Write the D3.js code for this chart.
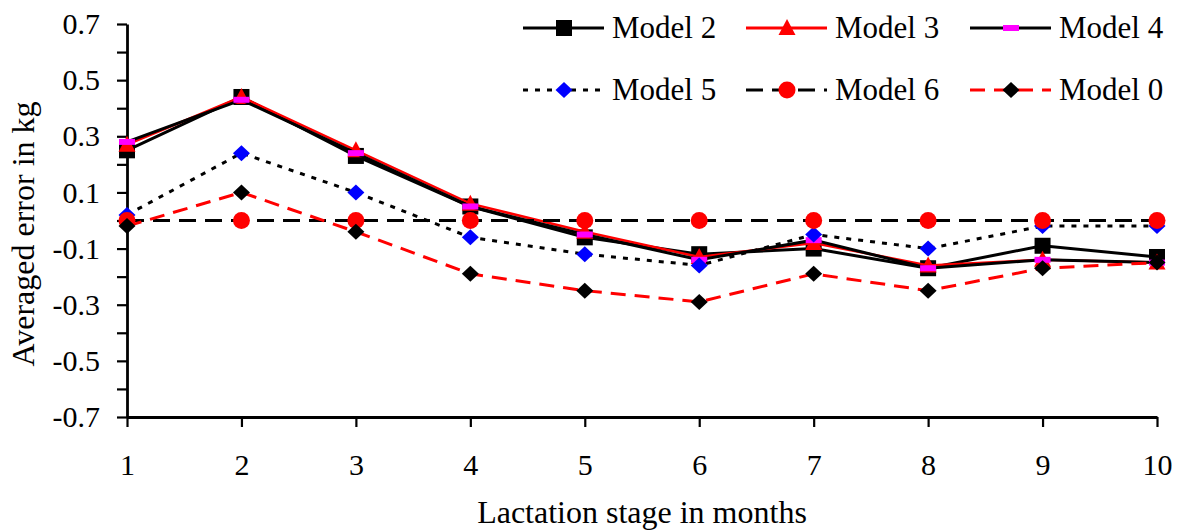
<!DOCTYPE html>
<html>
    <head>
        <meta charset="utf-8">
        <script src="https://d3js.org/d3.v7.min.js"></script>
    </head>
    <body style="margin:0">
        <svg width="1179" height="531" style="font-family: 'Liberation Serif'"></svg>

        <script>

            // data
            var months = [1, 2, 3, 4, 5, 6, 7, 8, 9, 10];
            var model2 = [0.25, 0.44, 0.23, 0.05, -0.06, -0.12, -0.10, -0.17, -0.09, -0.13];
            var model3 = [0.27, 0.44, 0.25, 0.06, -0.04, -0.13, -0.08, -0.16, -0.14, -0.15];
            var model4 = [0.28, 0.43, 0.24, 0.05, -0.05, -0.14, -0.07, -0.17, -0.14, -0.15];
            var model5 = [0.02, 0.24, 0.10, -0.06, -0.12, -0.16, -0.05, -0.10, -0.02, -0.02];
            var model6 = [0, 0, 0, 0, 0, 0, 0, 0, 0, 0];
            var model0 = [-0.02, 0.10, -0.04, -0.19, -0.25, -0.29, -0.19, -0.25, -0.17, -0.15];

            var seriesNames = ["Model 2", "Model 3", "Model 4", "Model 5", "Model 6", "Model 0"];
            var seriesValues = [model2, model3, model4, model5, model6, model0];
            var lineColors = ["#000", "#f00", "#000", "#000", "#000", "#f00"];
            var lineDash = [null, null, null, "5,7", "17,9", "15,9"];
            var markerShapes = ["square", "triangle", "bar", "diamond", "circle", "diamond"];
            var markerColors = ["#000", "#f00", "#f0f", "#00f", "#f00", "#000"];

            var yMajorTicks = [-0.7, -0.5, -0.3, -0.1, 0.1, 0.3, 0.5, 0.7];
            var yAllTicks = [-0.7, -0.6, -0.5, -0.4, -0.3, -0.2, -0.1, 0, 0.1, 0.2, 0.3, 0.4, 0.5, 0.6, 0.7];

            var svg = d3.select("svg");
            var x = d3.scaleLinear().domain([1, 10]).range([127, 1157]);
            var y = d3.scaleLinear().domain([-0.7, 0.7]).range([417, 24]);

            function styleAxis(g) {
              g.attr("font-family", "Liberation Serif").attr("font-size", 30);
              g.selectAll("line").attr("stroke", "#000").attr("stroke-width", 2.2);
              g.select(".domain").attr("stroke", "#000").attr("stroke-width", 2.8);
              g.selectAll("text").style("font-family", "Liberation Serif").attr("fill", "#000");
            }

            // axes
            svg.append("g")
              .attr("transform", "translate(0," + y(-0.7) + ")")
              .call(d3.axisBottom(x).tickValues(months).tickSize(10).tickSizeOuter(0).tickPadding(27).tickFormat(d3.format("d")))
              .call(styleAxis);

            svg.append("g")
              .attr("transform", "translate(" + x(1) + ",0)")
              .call(d3.axisLeft(y).tickValues(yAllTicks).tickSize(10).tickSizeOuter(0).tickPadding(17)
                .tickFormat(function(d) {
                  var major = yMajorTicks.some(function(t) { return Math.abs(t - d) < 1e-9; });
                  return major ? d.toFixed(1) : "";
                }))
              .call(styleAxis);

            // axis titles
            svg.append("text")
              .attr("x", (x(1) + x(10)) / 2)
              .attr("y", 523)
              .attr("text-anchor", "middle")
              .style("font-family", "Liberation Serif")
              .style("font-size", "32px")
              .text("Lactation stage in months");

            svg.append("text")
              .attr("transform", "translate(34,234) rotate(-90)")
              .attr("text-anchor", "middle")
              .style("font-family", "Liberation Serif")
              .style("font-size", "32px")
              .text("Averaged error in kg");

            // marker drawing
            function drawMarker(g, shape, color, cx, cy) {
              if (shape === "square") {
                g.append("rect").attr("x", cx - 8).attr("y", cy - 8).attr("width", 16).attr("height", 16).attr("fill", color);
              } else if (shape === "triangle") {
                g.append("path").attr("d", "M" + cx + "," + (cy - 9) + "L" + (cx + 8.5) + "," + (cy + 7) + "L" + (cx - 8.5) + "," + (cy + 7) + "Z").attr("fill", color);
              } else if (shape === "bar") {
                g.append("rect").attr("x", cx - 8).attr("y", cy - 3).attr("width", 16).attr("height", 6).attr("fill", color);
              } else if (shape === "diamond") {
                g.append("path").attr("d", "M" + cx + "," + (cy - 8) + "L" + (cx + 8.5) + "," + cy + "L" + cx + "," + (cy + 8) + "L" + (cx - 8.5) + "," + cy + "Z").attr("fill", color);
              } else if (shape === "circle") {
                g.append("circle").attr("cx", cx).attr("cy", cy).attr("r", 8.5).attr("fill", color);
              }
            }

            var line = d3.line()
              .x(function(d, i) { return x(months[i]); })
              .y(function(d) { return y(d); });

            // series
            seriesValues.forEach(function(vals, s) {
              var g = svg.append("g");
              g.append("path")
                .attr("d", line(vals))
                .attr("fill", "none")
                .attr("stroke", lineColors[s])
                .attr("stroke-width", s === 1 ? 2.5 : 3)
                .attr("stroke-dasharray", lineDash[s]);
              vals.forEach(function(v, i) {
                drawMarker(g, markerShapes[s], markerColors[s], x(months[i]), y(v));
              });
            });

            // legend
            var legendX = [523, 746, 970];
            var legendY = [28, 90];
            seriesNames.forEach(function(name, s) {
              var lx = legendX[s % 3], ly = legendY[Math.floor(s / 3)];
              var g = svg.append("g");
              g.append("line")
                .attr("x1", lx).attr("x2", lx + 81)
                .attr("y1", ly).attr("y2", ly)
                .attr("stroke", lineColors[s])
                .attr("stroke-width", 3)
                .attr("stroke-dasharray", lineDash[s]);
              drawMarker(g, markerShapes[s], markerColors[s], lx + 41, ly);
              g.append("text")
                .attr("x", lx + 89)
                .attr("y", ly + 10)
                .style("font-family", "Liberation Serif")
                .style("font-size", "31px")
                .text(name);
            });

        </script>
    </body>
</html>
